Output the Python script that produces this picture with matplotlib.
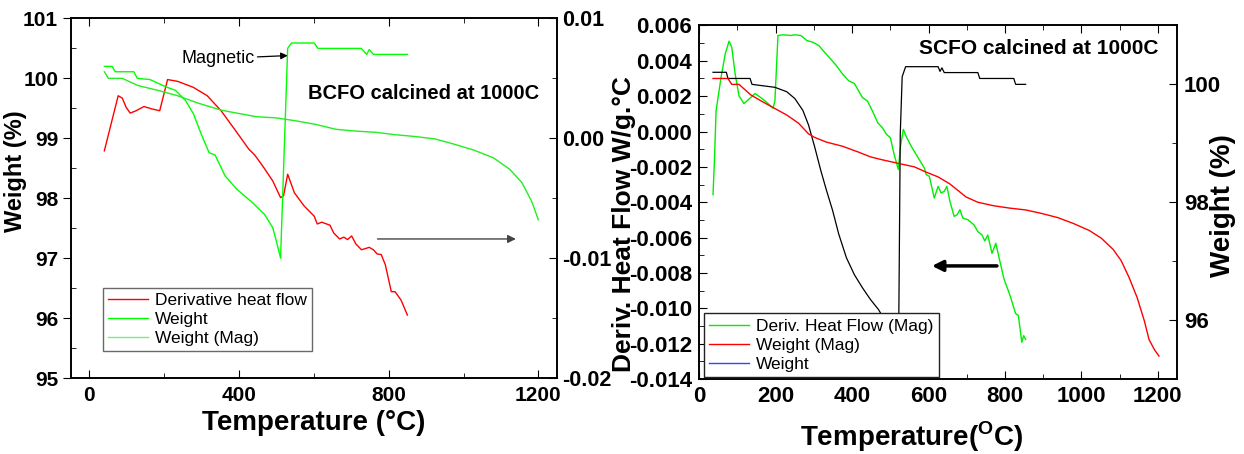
import matplotlib
matplotlib.use('Agg')
import matplotlib.pyplot as plt
from matplotlib.ticker import MultipleLocator, FuncFormatter
from matplotlib.lines import Line2D

plt.rcParams['font.family'] = ['Liberation Sans', 'DejaVu Sans']
plt.rcParams['font.weight'] = 'bold'
plt.rcParams['axes.labelweight'] = 'bold'
plt.rcParams['axes.unicode_minus'] = False
plt.rcParams['mathtext.fontset'] = 'custom'
plt.rcParams['mathtext.rm'] = 'Liberation Sans:bold'
plt.rcParams['mathtext.bf'] = 'Liberation Sans:bold'

# ---- BCFO panel (all in weight % units of the left axis) ----
bcfo_dhf_t = [40, 77, 88, 98, 109, 125, 146, 167, 188, 209, 236, 278, 315, 352, 394,
              410, 426, 442, 463, 490, 511, 519, 530, 548, 574, 601, 609, 621, 643,
              653, 669, 680, 690, 701, 712, 727, 738, 748, 759, 769, 780, 791, 807,
              817, 833, 850]
bcfo_dhf_v = [98.79, 99.71, 99.67, 99.52, 99.42, 99.46, 99.53, 99.49, 99.46, 99.98,
              99.95, 99.85, 99.71, 99.46, 99.10, 98.96, 98.82, 98.72, 98.54, 98.29,
              98.01, 98.04, 98.40, 98.09, 97.87, 97.70, 97.57, 97.60, 97.55, 97.42,
              97.32, 97.35, 97.31, 97.37, 97.24, 97.14, 97.16, 97.18, 97.14, 97.07,
              97.06, 96.89, 96.44, 96.44, 96.30, 96.05]

bcfo_w_t = [40, 61, 69, 119, 128, 162, 183, 204, 230, 257, 278, 299, 320, 336, 363,
            394, 437, 468, 490, 500, 511, 530, 540, 601, 611, 727, 741, 748, 759, 850]
bcfo_w_v = [100.20, 100.20, 100.11, 100.11, 100.00, 99.98, 99.92, 99.86, 99.80, 99.63,
            99.41, 99.07, 98.76, 98.72, 98.37, 98.15, 97.92, 97.73, 97.51, 97.28,
            97.00, 100.50, 100.59, 100.59, 100.50, 100.50, 100.40, 100.48, 100.40,
            100.40]

bcfo_wm_t = [40, 51, 88, 130, 183, 236, 289, 352, 394, 447, 500, 553, 606, 659, 712,
             765, 817, 870, 923, 976, 1029, 1081, 1124, 1156, 1182, 1200]
bcfo_wm_v = [100.11, 100.00, 100.00, 99.88, 99.80, 99.71, 99.59, 99.47, 99.42, 99.36,
             99.34, 99.29, 99.23, 99.15, 99.12, 99.10, 99.06, 99.03, 98.99, 98.90,
             98.80, 98.67, 98.48, 98.26, 97.95, 97.64]

# ---- SCFO panel ----
scfo_dhf_t = [36, 40, 44, 57, 68, 78, 85, 94, 104, 117, 130, 146, 161, 177, 193, 198,
              206, 219, 240, 250, 266, 281, 297, 313, 328, 344, 359, 375, 391, 406,
              417, 427, 440, 453, 467, 479, 490, 500, 510, 521, 526, 534, 543, 557,
              573, 589, 594, 602, 609, 615, 625, 633, 641, 648, 656, 667, 675, 682,
              690, 703, 719, 729, 740, 747, 755, 766, 776, 786, 797, 813, 828, 835,
              844, 849, 854]
scfo_dhf_v = [-0.00357, -0.00149, 0.00117, 0.00306, 0.00439, 0.00511, 0.00477, 0.00325,
              0.00202, 0.00158, 0.00183, 0.00215, 0.00192, 0.00164, 0.00132, 0.00173,
              0.00543, 0.00547, 0.00543, 0.00547, 0.00543, 0.00515, 0.00505, 0.00486,
              0.00448, 0.00410, 0.00372, 0.00325, 0.00287, 0.00272, 0.00230, 0.00192,
              0.00173, 0.00117, 0.00050, 0.00022, -0.00016, -0.00035, -0.00130,
              -0.00215, -0.00092, 0.00012, -0.00035, -0.00092, -0.00149, -0.00206,
              -0.00244, -0.00253, -0.00319, -0.00376, -0.00310, -0.00348, -0.00338,
              -0.00310, -0.00395, -0.00480, -0.00470, -0.00442, -0.00490, -0.00499,
              -0.00528, -0.00566, -0.00585, -0.00619, -0.00585, -0.00689, -0.00632,
              -0.00727, -0.00831, -0.00926, -0.01030, -0.01040, -0.01192, -0.01154,
              -0.01176]

scfo_wm_t = [36, 75, 85, 104, 135, 167, 198, 229, 260, 286, 302, 333, 375, 417, 448,
             479, 521, 563, 594, 625, 656, 677, 698, 729, 771, 813, 854, 896, 938, 979,
             1021, 1052, 1083, 1104, 1125, 1146, 1165, 1177, 1191, 1203]
scfo_wm_v = [100.10, 100.10, 100.00, 100.00, 99.82, 99.70, 99.59, 99.48, 99.34, 99.16,
             99.10, 99.02, 98.95, 98.85, 98.77, 98.72, 98.66, 98.60, 98.51, 98.43,
             98.31, 98.20, 98.09, 98.00, 97.94, 97.90, 97.87, 97.81, 97.74, 97.64,
             97.52, 97.39, 97.20, 97.01, 96.72, 96.38, 95.98, 95.67, 95.50, 95.39]

scfo_w_t = [36, 71, 75, 133, 138, 198, 229, 250, 271, 286, 302, 318, 333, 349, 365,
            385, 406, 427, 448, 469, 479, 500, 516, 521, 526, 531, 540, 625, 630, 635,
            641, 729, 734, 823, 828, 854]
scfo_w_v = [100.205, 100.205, 100.10, 100.10, 100.00, 99.95, 99.875, 99.76, 99.56,
            99.31, 98.94, 98.54, 98.20, 97.86, 97.46, 97.06, 96.77, 96.55, 96.35,
            96.18, 96.07, 95.58, 95.05, 95.05, 99.16, 100.13, 100.30, 100.30, 100.22,
            100.28, 100.20, 100.20, 100.10, 100.10, 100.00, 100.00]

fig = plt.figure(figsize=(12.44, 4.54), dpi=100)


def style_axes(a, size):
    a.tick_params(axis='both', which='both', labelsize=size)
    for s in a.spines.values():
        s.set_linewidth(1.2)


# ================= left panel =================
ax1 = fig.add_axes([0.0568, 0.1674, 0.391, 0.792])
ax1r = ax1.twinx()

ax1.plot(bcfo_dhf_t, bcfo_dhf_v, color='#ff0000', lw=1.0, label='Derivative heat flow')
ax1.plot(bcfo_w_t, bcfo_w_v, color='#00ff00', lw=1.0, label='Weight')
ax1.plot(bcfo_wm_t, bcfo_wm_v, color='#22ee22', lw=1.0, label='Weight (Mag)')

ax1.set_xlim(-50, 1250)
ax1.set_ylim(95, 101)
ax1.xaxis.set_major_locator(MultipleLocator(400))
ax1.xaxis.set_minor_locator(MultipleLocator(200))
ax1.yaxis.set_major_locator(MultipleLocator(1))
ax1.yaxis.set_minor_locator(MultipleLocator(0.5))
ax1.tick_params(axis='x', which='both', direction='in', top=True, pad=6)
ax1.tick_params(axis='x', which='major', length=6)
ax1.tick_params(axis='x', which='minor', length=3.5)
ax1.tick_params(axis='y', which='major', direction='out', length=6, pad=3)
ax1.tick_params(axis='y', which='minor', direction='in', length=3.5)
ax1r.set_ylim(-0.02, 0.01)
ax1r.yaxis.set_major_locator(MultipleLocator(0.01))
ax1r.yaxis.set_minor_locator(MultipleLocator(0.005))
ax1r.yaxis.set_major_formatter(FuncFormatter(lambda v, _: f'{round(v, 2) + 0.0:.2f}'))
ax1r.tick_params(axis='y', which='both', direction='in', pad=4)
ax1r.tick_params(axis='y', which='major', length=6)
ax1r.tick_params(axis='y', which='minor', length=3.5)
style_axes(ax1, 15)
style_axes(ax1r, 15.5)

ax1.set_xlabel('Temperature (°C)', fontsize=20, fontweight='bold')
ax1.xaxis.set_label_coords(0.5, -0.088)
ax1.set_ylabel('Weight (%)', fontsize=17, fontweight='bold')
ax1.yaxis.set_label_coords(-0.09, 0.575)
ax1r.set_ylabel('Deriv. Heat Flow W/g.°C', fontsize=19, fontweight='bold')
ax1r.yaxis.set_label_coords(1.113, 0.428)

ax1.annotate('Magnetic', xy=(530, 100.38), xytext=(246, 100.33), fontsize=13,
             fontweight='normal', ha='left', va='center',
             arrowprops=dict(arrowstyle='-|>', color='black', lw=0.9,
                             shrinkA=0, shrinkB=0, mutation_scale=10))
ax1.text(583, 99.74, 'BCFO calcined at 1000C', fontsize=14.5, fontweight='bold',
         ha='left', va='center')
ax1.annotate('', xy=(1140, 97.32), xytext=(770, 97.32),
             arrowprops=dict(arrowstyle='-|>', color='#444444', lw=1.0,
                             shrinkA=0, shrinkB=0, mutation_scale=12))

leg1 = ax1.legend(loc='lower left', bbox_to_anchor=(0.066, 0.075),
                  prop={'size': 12.5, 'weight': 'normal'},
                  frameon=True, fancybox=False, handlelength=2.3, handletextpad=0.4,
                  borderaxespad=0, borderpad=0.3, labelspacing=0.22)
leg1.get_frame().set_edgecolor('#444444')
leg1.get_frame().set_linewidth(1.0)
leg1.get_lines()[2].set_color('#77ee77')

# ================= right panel =================
ax2 = fig.add_axes([0.5621, 0.165, 0.384, 0.779])
ax2r = ax2.twinx()

ax2.plot(scfo_dhf_t, scfo_dhf_v, color='#00ee00', lw=1.0)
ax2r.plot(scfo_w_t, scfo_w_v, color='black', lw=0.9)
ax2r.plot(scfo_wm_t, scfo_wm_v, color='#ff0000', lw=1.0)

ax2.set_xlim(0, 1250)
ax2.set_ylim(-0.014, 0.006)
ax2.xaxis.set_major_locator(MultipleLocator(200))
ax2.xaxis.set_minor_locator(MultipleLocator(100))
ax2.yaxis.set_major_locator(MultipleLocator(0.002))
ax2.yaxis.set_minor_locator(MultipleLocator(0.001))
ax2.yaxis.set_major_formatter(FuncFormatter(lambda v, _: f'{round(v, 3) + 0.0:.3f}'))
ax2.tick_params(axis='both', which='both', direction='in', top=True, pad=5)
ax2.tick_params(axis='both', which='major', length=6)
ax2.tick_params(axis='both', which='minor', length=3.5)
ax2r.set_ylim(95, 101)
ax2r.yaxis.set_major_locator(MultipleLocator(2))
ax2r.yaxis.set_minor_locator(MultipleLocator(1))
ax2r.tick_params(axis='y', which='both', direction='in', pad=5)
ax2r.tick_params(axis='y', which='major', length=6)
ax2r.tick_params(axis='y', which='minor', length=3.5)
style_axes(ax2, 16)
style_axes(ax2r, 16)

ax2.set_xlabel(r'Temperature($^\mathbf{O}$C)', fontsize=20, fontweight='bold')
ax2.xaxis.set_label_coords(0.445, -0.115)
ax2r.set_ylabel('Weight (%)', fontsize=20, fontweight='bold')
ax2r.yaxis.set_label_coords(1.069, 0.49)

ax2.text(574, 0.00469, 'SCFO calcined at 1000C', fontsize=15, fontweight='bold',
         ha='left', va='center')
ax2.annotate('', xy=(609, -0.0076), xytext=(779, -0.0076),
             arrowprops=dict(arrowstyle='-|>', color='black', lw=2.5,
                             shrinkA=0, shrinkB=0, mutation_scale=16))

handles2 = [Line2D([], [], color='#00ee00', lw=1.0),
            Line2D([], [], color='#ff0000', lw=1.0),
            Line2D([], [], color='#3344ff', lw=1.0)]
labels2 = ['Deriv. Heat Flow (Mag)', 'Weight (Mag)', 'Weight']
leg2 = ax2r.legend(handles2, labels2, loc='lower left', bbox_to_anchor=(0.01, 0.006),
                   prop={'size': 12.5, 'weight': 'normal'},
                   frameon=True, fancybox=False, handlelength=2.3,
                   handletextpad=0.4, borderaxespad=0, borderpad=0.3,
                   labelspacing=0.22, framealpha=1)
leg2.get_frame().set_edgecolor('#222222')
leg2.get_frame().set_linewidth(1.0)

fig.savefig('out.png', dpi=100)
